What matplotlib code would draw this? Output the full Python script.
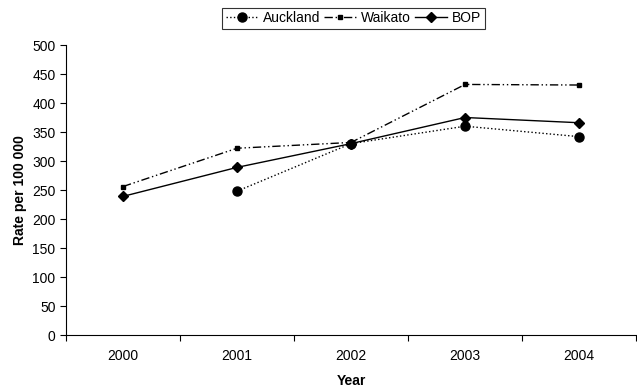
import numpy as np
import matplotlib
matplotlib.use("Agg")
import matplotlib.pyplot as plt

years = ["2000", "2001", "2002", "2003", "2004"]
auckland = [np.nan, 248, 330, 360, 342]
waikato = [256, 322, 332, 432, 431]
bop = [239, 289, 330, 375, 366]

plt.rcParams['font.family'] = ['Liberation Sans', 'DejaVu Sans']

fig = plt.figure(figsize=(6.37, 3.9), dpi=100)
ax = fig.add_axes([0.1036, 0.141, 0.895, 0.7436])

x = np.arange(len(years))
ax.plot(x, auckland, color='black', linestyle=':', linewidth=1,
        marker='o', markersize=6.5, label='Auckland')
ax.plot(x, waikato, color='black', linestyle=(0, (6, 2, 1, 2, 1, 2)), linewidth=1,
        marker='s', markersize=3.5, label='Waikato')
ax.plot(x, bop, color='black', linestyle='-', linewidth=1,
        marker='D', markersize=5, label='BOP')

ax.set_xlim(-0.5, 4.5)
ax.set_ylim(0, 500)
ax.set_yticks(np.arange(0, 501, 50))
ax.set_xticks(np.arange(-0.5, 4.6, 1))
ax.set_xticklabels([])
ax.set_xticks(x, minor=True)
ax.set_xticklabels(years, minor=True)
ax.tick_params(axis='x', which='minor', length=0, pad=10, labelsize=10)
ax.tick_params(axis='x', which='major', length=4, direction='out')
ax.tick_params(axis='y', length=4, direction='out', labelsize=10)

for s in ['top', 'right']:
    ax.spines[s].set_visible(False)

ax.set_xlabel('Year', fontweight='bold', fontsize=10, labelpad=8)
ax.set_ylabel('Rate per 100 000', fontweight='bold', fontsize=10, labelpad=4)

leg = fig.legend(loc='upper center', bbox_to_anchor=(0.555, 0.998), ncol=3,
                 frameon=True, fancybox=False, fontsize=10, handlelength=2.3,
                 handletextpad=0.35, columnspacing=0.3, borderpad=0.25)
leg.get_frame().set_edgecolor('black')
leg.get_frame().set_linewidth(0.8)

fig.savefig('out.png', dpi=100)
